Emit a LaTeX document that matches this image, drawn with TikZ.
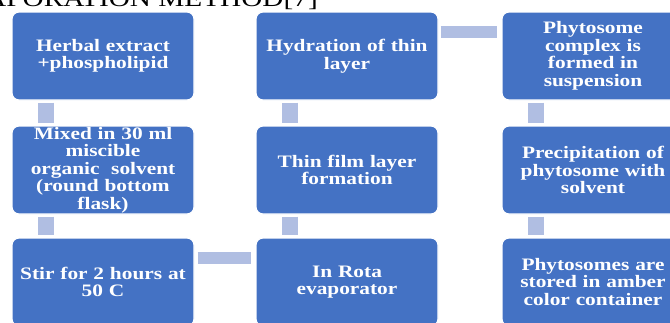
\documentclass[tikz,border=0pt]{standalone}
\usepackage{fontspec}
\newfontfamily\stepfont[FakeStretch=1.22]{Liberation Serif}

\definecolor{boxblue}{RGB}{68,114,196}
\definecolor{linkblue}{RGB}{176,190,226}

\tikzset{
	stepbox/.style={draw=white, line width=1.2pt, fill=boxblue, rounded corners=7pt,
		minimum width=182pt, minimum height=88pt, inner sep=0pt, text width=178pt,
		align=center, text=white, font=\stepfont\bfseries\fontsize{17.5}{17.5}\selectfont},
	vlink/.style={linkblue, line width=16pt},
	hlink/.style={linkblue, line width=12pt}
}

\begin{document}
\begin{tikzpicture}[x=1pt, y=-1pt]
\useasboundingbox (0,0) rectangle (670,322);
\clip (0,0) rectangle (670,322);
%heading, cut off at the top
\node[anchor=base east, inner sep=0pt, font=\stepfont\fontsize{24}{24}\selectfont] (title) at (318,6) {EVAPORATION METHOD[7]};

%steps: name/x/y/text
\foreach \nm/\x/\y/\txt in {herbal/103/56/{Herbal extract\\+phospholipid},
	mixed/103/170/{Mixed in 30 ml\\miscible\\organic\ \ solvent\\(round bottom\\flask)},
	stir/103/282/{Stir for 2 hours at\\50 C},
	rota/347/282/{In Rota\\evaporator},
	film/347/170/{Thin film layer\\formation},
	hyd/347/56/{Hydration of thin\\layer},
	complex/593/56/{Phytosome\\complex is\\formed in\\suspension},
	precip/593/170/{Precipitation of\\phytosome with\\solvent},
	store/593/282/{Phytosomes are\\stored in amber\\color container}}
	\node[stepbox] (\nm) at (\x,\y) {\txt};

\foreach \a/\b in {herbal/mixed,mixed/stir,hyd/film,film/rota,complex/precip,precip/store}
	\draw[vlink] ([xshift=35pt,yshift=-2pt]\a.south west) -- ([xshift=35pt,yshift=2pt]\b.north west);
\draw[hlink] ([xshift=3pt,yshift=-21pt]stir.north east) -- ([xshift=-4pt,yshift=-21pt]rota.north west);
\draw[hlink] ([xshift=2pt,yshift=-20.5pt]hyd.north east) -- ([xshift=-4pt,yshift=-20.5pt]complex.north west);

\end{tikzpicture}
\end{document}
